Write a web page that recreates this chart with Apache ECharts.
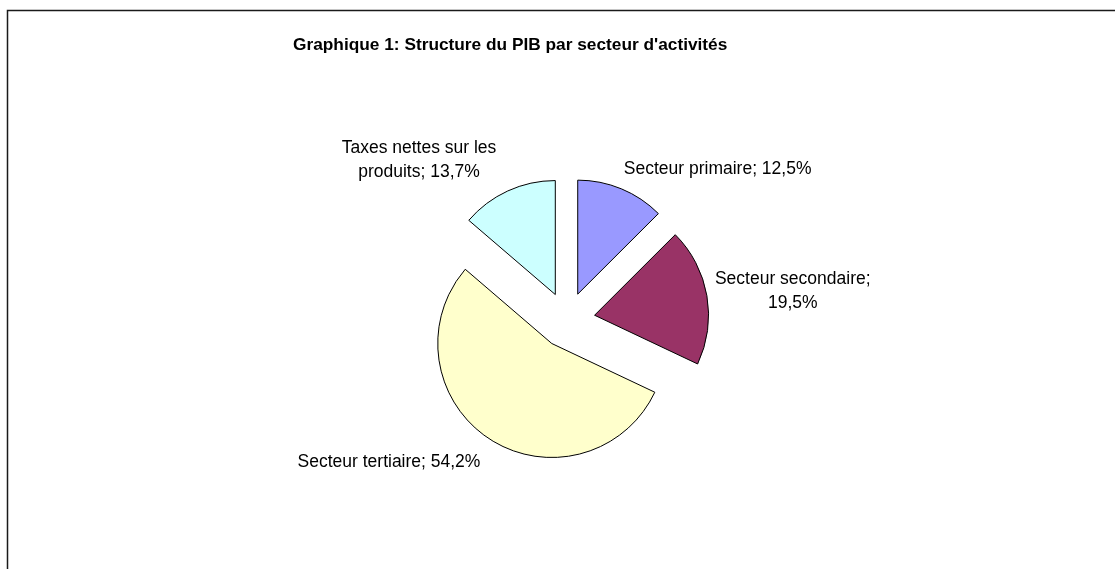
<!DOCTYPE html>
<html>
<head>
<meta charset="utf-8">
<script src="https://cdn.jsdelivr.net/npm/echarts@6/dist/echarts.min.js"></script>
<style>
  html, body { margin: 0; padding: 0; background: #fff; }
  #pibChart { width: 1115px; height: 569px; }
</style>
</head>
<body>
<div id="pibChart"></div>
<script>
// Structure du PIB par secteur d'activités (%)
const sectorNames = ['Secteur primaire', 'Secteur secondaire', 'Secteur tertiaire', 'Taxes nettes sur les produits']
const sectorValues = [12.5, 19.5, 54.2, 13.7]
const sectorColors = ['#9999FF', '#993366', '#FFFFCC', '#CCFFFF']

// label placement through the (hidden) label line: radial part, then horizontal run
const labelRadial = [21.5, 26.6, 28, 33.7]
const labelRun = [83, 54.6, 80.5, 69.6]

const myChart = echarts.init(document.getElementById('pibChart'))

function fmtPct(v) {
  return v.toFixed(1).replace('.', ',') + '%'
}

myChart.setOption({
  animation: false,
  backgroundColor: '#fff',
  title: {
    text: "Graphique 1: Structure du PIB par secteur d'activités",
    left: 293,
    top: 37,
    padding: 0,
    textStyle: {
      fontFamily: 'Liberation Sans, Arial, sans-serif',
      fontSize: 17.3,
      fontWeight: 'bold',
      color: '#000',
    },
  },
  graphic: [
    {
      type: 'rect',
      silent: true,
      shape: { x: 7.5, y: 10.5, width: 2000, height: 2000 },
      style: { fill: 'none', stroke: '#1a1a1a', lineWidth: 1.5 },
    },
  ],
  series: [
    {
      type: 'pie',
      center: [567, 320],
      radius: 114,
      startAngle: 90,
      clockwise: true,
      selectedMode: 'multiple',
      selectedOffset: 28,
      avoidLabelOverlap: false,
      itemStyle: {
        borderColor: '#000',
        borderWidth: 1,
      },
      select: {
        itemStyle: { borderColor: '#000', borderWidth: 1 },
      },
      emphasis: { scale: false },
      label: {
        show: true,
        position: 'outside',
        overflow: 'none',
        fontFamily: 'Liberation Sans, Arial, sans-serif',
        fontSize: 17.5,
        lineHeight: 24,
        color: '#000',
        align: 'center',
        formatter: p => {
          if (p.dataIndex === 1) return p.name + ';\n' + fmtPct(p.value)
          if (p.dataIndex === 3) return 'Taxes nettes sur les\nproduits; ' + fmtPct(p.value)
          return p.name + '; ' + fmtPct(p.value)
        },
      },
      labelLine: { show: false },
      labelLayout: {
        align: 'center',
        verticalAlign: 'middle',
      },
      data: sectorNames.map((name, i) => ({
        name,
        value: sectorValues[i],
        selected: true,
        itemStyle: { color: sectorColors[i] },
        labelLine: { length: labelRadial[i], length2: labelRun[i] },
      })),
    },
  ],
})

window.addEventListener('resize', () => myChart.resize())
</script>
</body>
</html>
